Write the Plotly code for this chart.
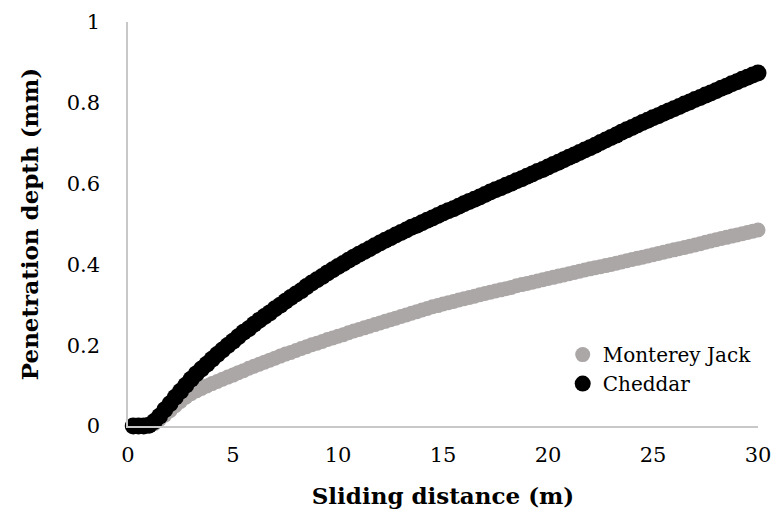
import plotly.graph_objects as go

sliding_distance = [
    0.25, 0.5, 0.75, 1.0, 1.25, 1.5, 1.75, 2.0, 2.25, 2.5, 2.75, 3.0,
    3.25, 3.5, 3.75, 4.0, 4.25, 4.5, 4.75, 5.0, 5.25, 5.5, 5.75, 6.0,
    6.25, 6.5, 6.75, 7.0, 7.25, 7.5, 7.75, 8.0, 8.25, 8.5, 8.75, 9.0,
    9.25, 9.5, 9.75, 10.0, 10.25, 10.5, 10.75, 11.0, 11.25, 11.5, 11.75, 12.0,
    12.25, 12.5, 12.75, 13.0, 13.25, 13.5, 13.75, 14.0, 14.25, 14.5, 14.75, 15.0,
    15.25, 15.5, 15.75, 16.0, 16.25, 16.5, 16.75, 17.0, 17.25, 17.5, 17.75, 18.0,
    18.25, 18.5, 18.75, 19.0, 19.25, 19.5, 19.75, 20.0, 20.25, 20.5, 20.75, 21.0,
    21.25, 21.5, 21.75, 22.0, 22.25, 22.5, 22.75, 23.0, 23.25, 23.5, 23.75, 24.0,
    24.25, 24.5, 24.75, 25.0, 25.25, 25.5, 25.75, 26.0, 26.25, 26.5, 26.75, 27.0,
    27.25, 27.5, 27.75, 28.0, 28.25, 28.5, 28.75, 29.0, 29.25, 29.5, 29.75, 30.0,
]

monterey_jack = [
    0.000, 0.000, 0.000, 0.001, 0.006, 0.016, 0.027, 0.038, 0.050, 0.061, 0.071, 0.080,
    0.087, 0.093, 0.099, 0.105, 0.110, 0.116, 0.121, 0.126, 0.132, 0.137, 0.143, 0.148,
    0.153, 0.158, 0.163, 0.168, 0.173, 0.178, 0.182, 0.187, 0.192, 0.196, 0.201, 0.205,
    0.209, 0.214, 0.218, 0.222, 0.226, 0.231, 0.235, 0.239, 0.243, 0.247, 0.251, 0.255,
    0.259, 0.263, 0.267, 0.271, 0.275, 0.279, 0.283, 0.287, 0.291, 0.295, 0.298, 0.302,
    0.305, 0.308, 0.312, 0.315, 0.318, 0.321, 0.325, 0.328, 0.331, 0.334, 0.337, 0.340,
    0.343, 0.347, 0.350, 0.353, 0.356, 0.359, 0.362, 0.365, 0.368, 0.371, 0.374, 0.377,
    0.380, 0.383, 0.386, 0.389, 0.392, 0.394, 0.397, 0.400, 0.403, 0.406, 0.409, 0.412,
    0.415, 0.418, 0.421, 0.424, 0.427, 0.430, 0.433, 0.436, 0.439, 0.442, 0.445, 0.448,
    0.451, 0.455, 0.458, 0.461, 0.464, 0.467, 0.470, 0.473, 0.476, 0.479, 0.482, 0.485,
]

cheddar = [
    0.000, 0.000, 0.000, 0.002, 0.011, 0.024, 0.040, 0.055, 0.071, 0.086, 0.101, 0.116,
    0.129, 0.141, 0.153, 0.165, 0.177, 0.188, 0.199, 0.210, 0.221, 0.232, 0.241, 0.252,
    0.262, 0.271, 0.280, 0.290, 0.299, 0.309, 0.318, 0.327, 0.335, 0.345, 0.354, 0.362,
    0.370, 0.379, 0.387, 0.395, 0.402, 0.410, 0.418, 0.425, 0.432, 0.439, 0.446, 0.453,
    0.460, 0.466, 0.473, 0.479, 0.485, 0.492, 0.497, 0.503, 0.509, 0.515, 0.521, 0.527,
    0.533, 0.538, 0.544, 0.550, 0.556, 0.561, 0.567, 0.573, 0.579, 0.585, 0.590, 0.596,
    0.601, 0.607, 0.612, 0.618, 0.624, 0.630, 0.635, 0.641, 0.647, 0.653, 0.659, 0.665,
    0.671, 0.677, 0.683, 0.689, 0.695, 0.702, 0.708, 0.714, 0.720, 0.727, 0.733, 0.739,
    0.745, 0.751, 0.757, 0.763, 0.768, 0.774, 0.780, 0.785, 0.791, 0.797, 0.802, 0.808,
    0.813, 0.819, 0.824, 0.830, 0.836, 0.841, 0.847, 0.852, 0.858, 0.863, 0.869, 0.874,
]

x_ticks = [0, 5, 10, 15, 20, 25, 30]
y_ticks = [0, 0.2, 0.4, 0.6, 0.8, 1]
y_tick_labels = ["0", "0.2", "0.4", "0.6", "0.8", "1"]

FONT = "DejaVu Serif"

fig = go.Figure()
fig.add_trace(go.Scatter(
    x=sliding_distance, y=monterey_jack, mode="markers", name="Monterey Jack",
    marker=dict(color="#aba7a6", size=15, line=dict(width=0)), cliponaxis=False,
))
fig.add_trace(go.Scatter(
    x=sliding_distance, y=cheddar, mode="markers", name="Cheddar",
    marker=dict(color="#000000", size=17, line=dict(width=0)), cliponaxis=False,
))

fig.update_layout(
    width=783, height=529,
    margin=dict(l=128, r=25, t=22, b=103),
    paper_bgcolor="white", plot_bgcolor="white",
    font=dict(family=FONT, size=21, color="#000000"),
    showlegend=True,
    legend=dict(
        x=0.69, y=0.225, xanchor="left", yanchor="top",
        bgcolor="rgba(0,0,0,0)", font=dict(family=FONT, size=20),
        itemwidth=30, tracegroupgap=0,
    ),
    xaxis=dict(
        range=[0, 30], tickvals=x_ticks, ticktext=[str(v) for v in x_ticks],
        showgrid=False, zeroline=False, showline=True, linecolor="#c8c8c8", linewidth=1.5,
        ticks="", ticklabelstandoff=9, automargin=False,
        tickfont=dict(family=FONT, size=21),
        title=dict(text="<b>Sliding distance (m)</b>", font=dict(family=FONT, size=23), standoff=22),
    ),
    yaxis=dict(
        range=[0, 1], tickvals=y_ticks, ticktext=y_tick_labels,
        showgrid=False, zeroline=False, showline=True, linecolor="#c8c8c8", linewidth=1.5,
        ticks="", ticklabelstandoff=22, automargin=False,
        tickfont=dict(family=FONT, size=21),
        title=dict(text="<b>Penetration depth (mm)</b>", font=dict(family=FONT, size=23), standoff=22),
    ),
)

fig.write_html("out.html")
